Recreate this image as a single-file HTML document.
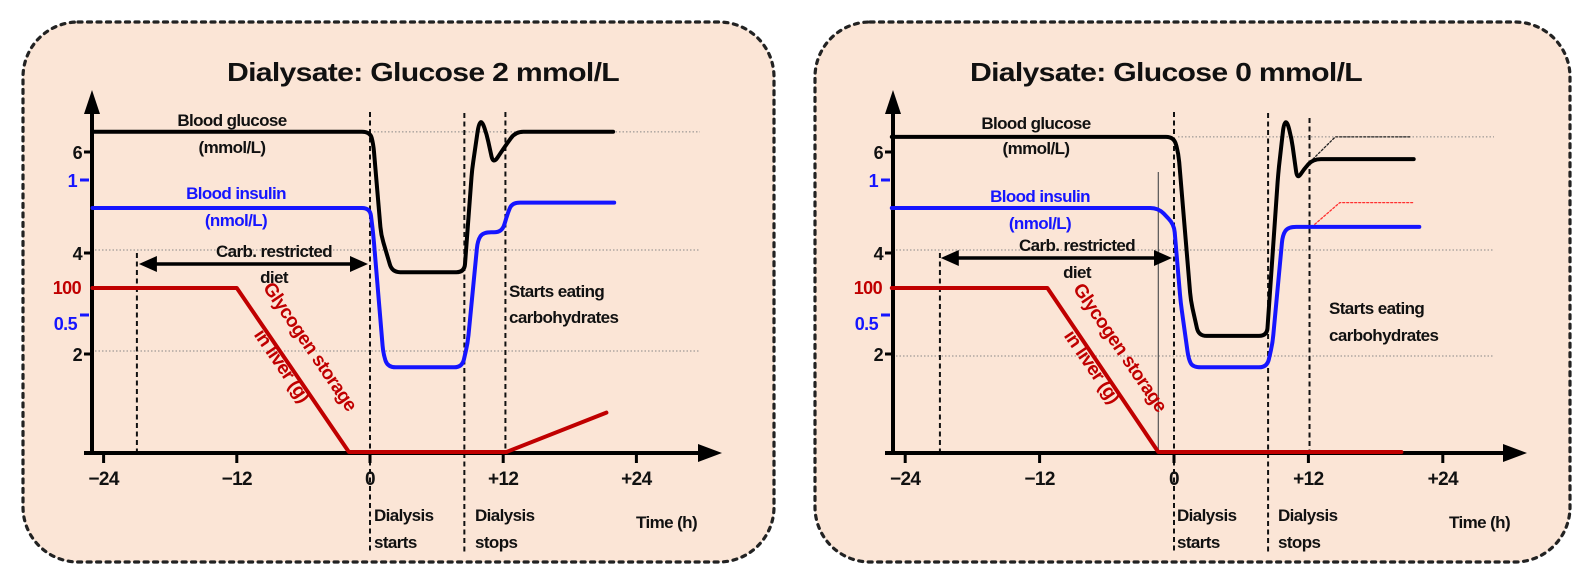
<!DOCTYPE html>
<html><head><meta charset="utf-8">
<style>
html,body{margin:0;padding:0;background:#fff;}
svg{display:block;}
text{font-family:"Liberation Sans",sans-serif;font-weight:bold;letter-spacing:-0.6px;}
</style></head>
<body>
<svg id="fig" width="1587" height="578" viewBox="0 0 1587 578" xmlns="http://www.w3.org/2000/svg"></svg>
<script>
// ---- data: left panel (glucose 2 mmol/L) ----
const L_glucoseT = [-25, 0, 0.3, 1.0, 2.0, 8.5, 9.2, 9.8, 10.1, 10.5, 11.1, 12.0, 13.1, 21.9];
const L_glucoseV = [6.34, 6.34, 6.1, 4.3, 3.56, 3.56, 5.6, 6.5, 6.55, 6.3, 5.7, 6.0, 6.34, 6.34];
const L_insulinT = [-25, 0, 0.3, 1.2, 1.6, 8.3, 8.8, 9.7, 10.2, 11.9, 12.4, 12.8, 22];
const L_insulinV = [0.90, 0.90, 0.80, 0.36, 0.31, 0.31, 0.40, 0.78, 0.81, 0.81, 0.88, 0.92, 0.92];
const L_glycogenT = [-25, -12, -1.9, 12.3, 21.3];
const L_glycogenV = [100, 100, 0, 0, 24];
// ---- data: right panel (glucose 0 mmol/L) ----
const R_glucoseT = [-25.2, 0, 0.4, 1.5, 2.2, 8.3, 9.3, 9.8, 10.1, 10.5, 11.0, 11.6, 12.4, 21.4];
const R_glucoseV = [6.24, 6.24, 5.9, 3.0, 2.3, 2.3, 5.5, 6.5, 6.55, 6.2, 5.4, 5.6, 5.8, 5.8];
const R_glucoseAltT = [12.4, 14.4, 21.2];
const R_glucoseAltV = [5.8, 6.24, 6.24];
const R_insulinT = [-25.2, -1.4, 0, 0.6, 1.3, 1.7, 8.3, 8.8, 9.7, 10.2, 21.9];
const R_insulinV = [0.90, 0.90, 0.84, 0.55, 0.34, 0.31, 0.31, 0.40, 0.80, 0.83, 0.83];
const R_insulinAltT = [12.3, 14.8, 21.3];
const R_insulinAltV = [0.83, 0.92, 0.92];
const R_glycogenT = [-25.2, -11.3, -1.4, 20.3];
const R_glycogenV = [100, 100, 0, 0];
// tick labels
const xTicks = [-24, -12, 0, 12, 24];
const xTickLabels = ["\u221224", "\u221212", "0", "+12", "+24"];
const glucoseTicks = [6, 4, 2];
const insulinTicks = [1, 0.5];
const glycogenTicks = [100];

const NS = "http://www.w3.org/2000/svg";
const svg = document.getElementById("fig");
function mk(tag, attrs, parent, txt) {
  const e = document.createElementNS(NS, tag);
  for (const k in attrs) e.setAttribute(k, attrs[k]);
  if (txt !== undefined) e.textContent = txt;
  (parent || svg).appendChild(e);
  return e;
}
function roundedPath(P, r) {
  let d = "M" + P[0][0].toFixed(1) + "," + P[0][1].toFixed(1);
  for (let i = 1; i < P.length - 1; i++) {
    const [px, py] = P[i - 1], [cx, cy] = P[i], [nx, ny] = P[i + 1];
    const l1 = Math.hypot(cx - px, cy - py), l2 = Math.hypot(nx - cx, ny - cy);
    const r1 = Math.min(r, l1 / 2), r2 = Math.min(r, l2 / 2);
    const ax = cx - (cx - px) / l1 * r1, ay = cy - (cy - py) / l1 * r1;
    const bx = cx + (nx - cx) / l2 * r2, by = cy + (ny - cy) / l2 * r2;
    d += " L" + ax.toFixed(1) + "," + ay.toFixed(1) + " Q" + cx.toFixed(1) + "," + cy.toFixed(1) + " " + bx.toFixed(1) + "," + by.toFixed(1);
  }
  const L = P[P.length - 1];
  d += " L" + L[0].toFixed(1) + "," + L[1].toFixed(1);
  return d;
}

function panel(cfg) {
  const g = mk("g", {});
  
  
  const X = t => cfg.x0 + cfg.px * t;
  const YG = v => 452 - 50.5 * v;
  const YI = v => 451 - 270 * v;
  const YC = v => 452 - 1.64 * v;

  const bg = mk("rect", {x: cfg.bx, y: 22, width: cfg.bw, height: 540, rx: 55, ry: 55, fill: "#fbe5d6", stroke: "#222", "stroke-width": 3.2, "stroke-dasharray": "4 5.5", "stroke-linecap": "round"}, g);
  
  

  const title = mk("text", {x: cfg.titleX, y: 81, "text-anchor": "middle", "font-size": 26, fill: "#111", textLength: 392, lengthAdjust: "spacingAndGlyphs"}, g, cfg.title);
  
  

  const grid = [[cfg.grid0, YG(cfg.gHigh)], [cfg.ax + 3, YG(4)], [cfg.ax + 3, YG(2) + cfg.g2off]];
  grid.forEach(([x1, y]) => {
    const l = mk("line", {x1: x1, x2: cfg.gridEnd, y1: y, y2: y, stroke: "#888", "stroke-width": 1, "stroke-dasharray": "1.5 2"}, g);
    
    
  });

  cfg.vlines.forEach(([t, y1, y2]) => {
    const l = mk("line", {x1: X(t), x2: X(t), y1: y1, y2: y2, stroke: "#111", "stroke-width": 2, "stroke-dasharray": "5 3.5"}, g);
    
    
  });
  if (cfg.grayLine !== undefined) {
    const l = mk("line", {x1: X(cfg.grayLine), x2: X(cfg.grayLine), y1: 172, y2: 453, stroke: "#555", "stroke-width": 1.2}, g);
    
    
  }

  const ya = mk("line", {x1: cfg.ax, x2: cfg.ax, y1: 112, y2: 455, stroke: "#000", "stroke-width": 4}, g);
  
  
  const yh = mk("polygon", {points: `${cfg.ax - 8},${114} ${cfg.ax + 8},${114} ${cfg.ax},${90}`, fill: "#000"}, g);
  
  
  const xa = mk("line", {x1: cfg.ax - 8, x2: cfg.axEnd - 20, y1: 453, y2: 453, stroke: "#000", "stroke-width": 4}, g);
  
  
  const xh = mk("polygon", {points: `${cfg.axEnd - 24},${444} ${cfg.axEnd - 24},${462} ${cfg.axEnd},${453}`, fill: "#000"}, g);
  
  

  xTicks.forEach((t, i) => {
    const tk = mk("line", {x1: X(t), x2: X(t), y1: 453, y2: 463, stroke: "#000", "stroke-width": 3}, g);
    
    
    const lb = mk("text", {x: X(t), y: 485, "text-anchor": "middle", "font-size": 19, fill: "#111"}, g, xTickLabels[i]);
    
    
  });
  glucoseTicks.forEach(v => {
    const tk = mk("line", {x1: cfg.ax - 8, x2: cfg.ax, y1: YG(v) + 3, y2: YG(v) + 3, stroke: "#000", "stroke-width": 3}, g);
    
    
    const lb = mk("text", {x: cfg.ax - 10, y: YG(v) + 10, "text-anchor": "end", "font-size": 18, fill: "#111"}, g, String(v));
    
    
  });
  insulinTicks.forEach(v => {
    const tk = mk("line", {x1: cfg.ax - 12, x2: cfg.ax - 3, y1: YI(v) - 1, y2: YI(v) - 1, stroke: "#1515ff", "stroke-width": 3}, g);
    
    
    const lb = mk("text", {x: cfg.ax - 15, y: YI(v) + (v === 1 ? 6 : 14), "text-anchor": "end", "font-size": 18, fill: "#1515ff"}, g, String(v));
    
    
  });
  glycogenTicks.forEach(v => {
    const lb = mk("text", {x: cfg.ax - 11, y: YC(v) + 6, "text-anchor": "end", "font-size": 18, fill: "#c00000"}, g, String(v));
    
    
  });

  function line(T, V, Y, color, w, name, dash, r) {
    const P = T.map((t, i) => [X(t), Y(V[i])]);
    const a = {d: roundedPath(P, r), fill: "none", stroke: color, "stroke-width": w, "stroke-linejoin": "round", "stroke-linecap": "round"};
    if (dash) a["stroke-dasharray"] = dash;
    const p = mk("path", a, g);
    
    
  }
  line(cfg.glyT, cfg.glyV, YC, "#c00000", 4, "glycogen-line", null, 0);
  if (cfg.insAltT) line(cfg.insAltT, cfg.insAltV, YI, "#ff3030", 1.3, "insulin-alt-line", "2 2", 0);
  if (cfg.gluAltT) line(cfg.gluAltT, cfg.gluAltV, YG, "#222", 1.3, "glucose-alt-line", "2 2", 0);
  line(cfg.insT, cfg.insV, YI, "#1515ff", 4, "insulin-line", null, 8);
  line(cfg.gluT, cfg.gluV, YG, "#000", 4, "glucose-line", null, 8);

  const ay = cfg.arrowY, a1 = X(-21) + 2, a2 = X(0) - 2;
  const da = mk("line", {x1: a1 + 14, x2: a2 - 14, y1: ay, y2: ay, stroke: "#000", "stroke-width": 3.5}, g);
  
  
  const h1 = mk("polygon", {points: `${a1},${ay} ${a1 + 18},${ay - 8} ${a1 + 18},${ay + 8}`, fill: "#000"}, g);
  
  
  const h2 = mk("polygon", {points: `${a2},${ay} ${a2 - 18},${ay - 8} ${a2 - 18},${ay + 8}`, fill: "#000"}, g);
  
  

  cfg.labels.forEach(L => {
    const t = mk("text", {x: L[0], y: L[1], "text-anchor": L[4] || "middle", "font-size": L[5] || 17, fill: L[3]}, g, L[2]);
    
    
  });
  const rg = mk("text", {transform: `translate(${cfg.glyLabel[0]},${cfg.glyLabel[1]}) rotate(55.7)`, "text-anchor": "middle", "font-size": 19, fill: "#c00000"}, g);
  
  
  mk("tspan", {x: 0, y: 0}, rg, "Glycogen storage");
  mk("tspan", {x: 0, y: 34}, rg, "in liver (g)");
}

panel({
  name: "panel-glucose-2", bx: 23, bw: 751, title: "Dialysate: Glucose 2 mmol/L", titleX: 423,
  x0: 370, px: 11.1, ax: 92, axEnd: 722, grid0: 374, gHigh: 6.34, g2off: 0, gridEnd: 700,
  vlines: [[-21, 253, 453], [0, 112, 553], [8.5, 113, 553], [12.2, 112, 453]],
  gluT: L_glucoseT, gluV: L_glucoseV, insT: L_insulinT, insV: L_insulinV, glyT: L_glycogenT, glyV: L_glycogenV,
  arrowY: 264, glyLabel: [305, 350],
  labels: [
    [232, 126, "Blood glucose", "#111", "middle", 17, "glucose-label"],
    [232, 153, "(mmol/L)", "#111", "middle", 17, "glucose-unit-label"],
    [236, 199, "Blood insulin", "#1515ff", "middle", 17, "insulin-label"],
    [236, 226, "(nmol/L)", "#1515ff", "middle", 17, "insulin-unit-label"],
    [274, 257, "Carb. restricted", "#111", "middle", 17, "diet-label"],
    [274, 283, "diet", "#111", "middle", 17, "diet-label-2"],
    [509, 297, "Starts eating", "#111", "start", 17, "eating-label"],
    [509, 323, "carbohydrates", "#111", "start", 17, "eating-label-2"],
    [374, 521, "Dialysis", "#111", "start", 17, "dialysis-start-label"],
    [374, 548, "starts", "#111", "start", 17, "dialysis-start-label-2"],
    [475, 521, "Dialysis", "#111", "start", 17, "dialysis-stop-label"],
    [475, 548, "stops", "#111", "start", 17, "dialysis-stop-label-2"],
    [636, 528, "Time (h)", "#111", "start", 17, "x-axis-title"]
  ]
});

panel({
  name: "panel-glucose-0", bx: 815, bw: 755, title: "Dialysate: Glucose 0 mmol/L", titleX: 1166,
  x0: 1174, px: 11.2, ax: 893, axEnd: 1527, grid0: 1178, gHigh: 6.24, g2off: 5, gridEnd: 1494,
  vlines: [[-20.9, 253, 453], [0, 112, 553], [8.4, 113, 553], [12.1, 118, 453]],
  gluT: R_glucoseT, gluV: R_glucoseV, insT: R_insulinT, insV: R_insulinV, glyT: R_glycogenT, glyV: R_glycogenV,
  gluAltT: R_glucoseAltT, gluAltV: R_glucoseAltV, insAltT: R_insulinAltT, insAltV: R_insulinAltV,
  grayLine: -1.4, arrowY: 258, glyLabel: [1115, 351],
  labels: [
    [1036, 129, "Blood glucose", "#111", "middle", 17, "glucose-label"],
    [1036, 154, "(mmol/L)", "#111", "middle", 17, "glucose-unit-label"],
    [1040, 202, "Blood insulin", "#1515ff", "middle", 17, "insulin-label"],
    [1040, 229, "(nmol/L)", "#1515ff", "middle", 17, "insulin-unit-label"],
    [1077, 251, "Carb. restricted", "#111", "middle", 17, "diet-label"],
    [1077, 278, "diet", "#111", "middle", 17, "diet-label-2"],
    [1329, 314, "Starts eating", "#111", "start", 17, "eating-label"],
    [1329, 341, "carbohydrates", "#111", "start", 17, "eating-label-2"],
    [1177, 521, "Dialysis", "#111", "start", 17, "dialysis-start-label"],
    [1177, 548, "starts", "#111", "start", 17, "dialysis-start-label-2"],
    [1278, 521, "Dialysis", "#111", "start", 17, "dialysis-stop-label"],
    [1278, 548, "stops", "#111", "start", 17, "dialysis-stop-label-2"],
    [1449, 528, "Time (h)", "#111", "start", 17, "x-axis-title"]
  ]
});
</script>
</body></html>
